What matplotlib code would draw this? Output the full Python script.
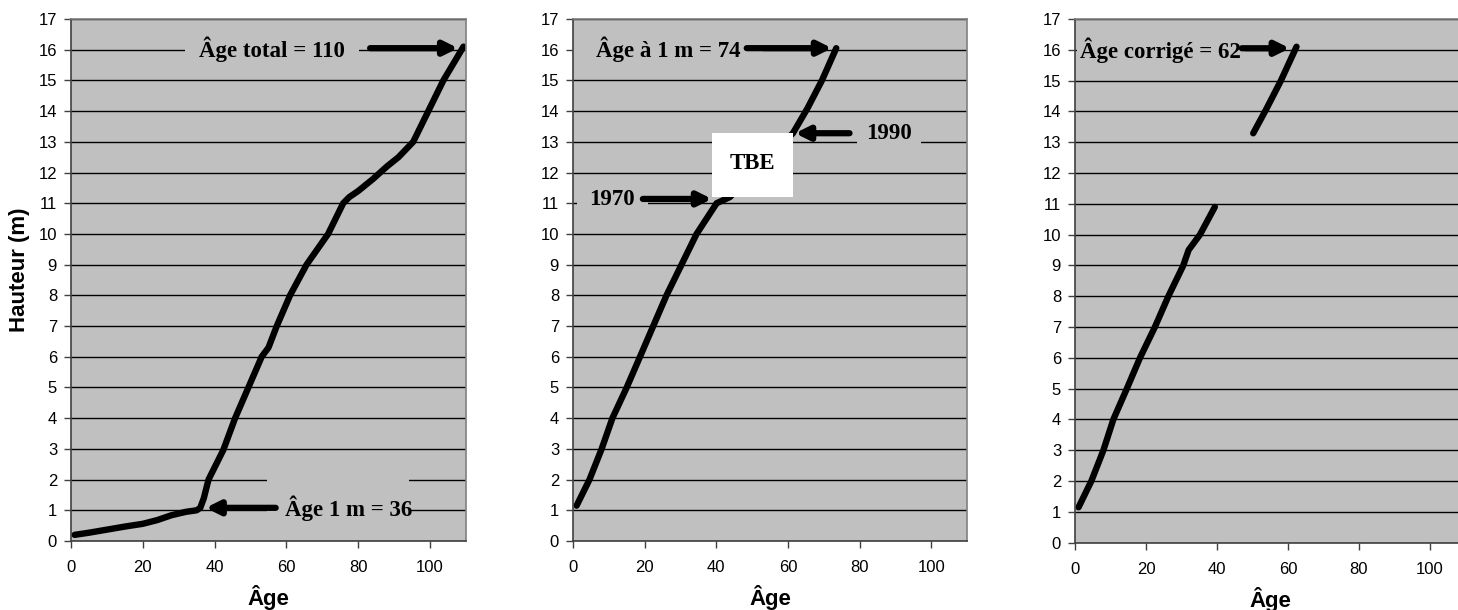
import numpy as np
import matplotlib
matplotlib.use("Agg")
import matplotlib.pyplot as plt
from matplotlib.patches import Rectangle

# ---- data ----
age_total = [1, 5, 10, 15, 20, 24, 28, 32, 35, 36, 37, 38.3, 42.4, 45.7, 49.4, 53.1, 55, 57.3,
             61, 65.6, 68, 71.6, 75.8, 77.5, 80, 84.2, 88, 91.2, 95.3, 99.5, 103.7, 109.3]
h_total = [0.2, 0.27, 0.37, 0.47, 0.56, 0.68, 0.84, 0.95, 1.0, 1.08, 1.4, 2.0, 2.96, 4.0, 5.0, 6.0,
           6.3, 7.0, 8.0, 9.0, 9.4, 10.0, 11.0, 11.2, 11.4, 11.8, 12.2, 12.5, 13.0, 14.0, 15.0, 16.1]

age_1m = [1, 4.6, 8.0, 11.0, 15.0, 18.7, 22.4, 26.1, 30.3, 34.5, 40.1, 43.8, 52, 61.4, 65.5, 69.5, 73.5]
h_1m = [1.15, 2.0, 3.0, 4.0, 5.0, 6.0, 7.0, 8.0, 9.0, 10.0, 11.0, 11.2, 12.2, 13.28, 14.1, 15.0, 16.05]

age_corr = [1, 4.6, 8.0, 10.8, 14.6, 18.3, 22.5, 26.3, 30.5, 32.0, 35.2, 39.4, np.nan, 50.2, 54, 58, 62.4]
h_corr = [1.15, 2.0, 3.0, 4.0, 5.0, 6.0, 7.0, 8.0, 9.0, 9.5, 10.0, 10.9, np.nan, 13.29, 14.1, 15.0, 16.1]

x_ticks = [0, 20, 40, 60, 80, 100]
y_ticks = list(range(0, 18))

GRAY = "#C0C0C0"

# ---- figure ----
fig = plt.figure(figsize=(14.58, 6.10), dpi=100)
positions = [
    [71 / 1458, 1 - 541 / 610, 395 / 1458, 522 / 610],
    [573 / 1458, 1 - 541 / 610, 394 / 1458, 522 / 610],
    [1075 / 1458, 1 - 542.7 / 610, 390.5 / 1458, 523.7 / 610],
]
series = [(age_total, h_total), (age_1m, h_1m), (age_corr, h_corr)]
axes = []
for pos, (xs, ys) in zip(positions, series):
    ax = fig.add_axes(pos)
    ax.set_facecolor(GRAY)
    ax.set_xlim(0, 110)
    ax.set_ylim(0, 17)
    ax.set_xticks(x_ticks)
    ax.set_yticks(y_ticks)
    ax.yaxis.grid(True, color="black", lw=1.0)
    ax.set_axisbelow(True)
    for s in ["top", "right"]:
        ax.spines[s].set_color("#808080")
        ax.spines[s].set_linewidth(1.2)
        ax.spines[s].set_zorder(6)
    for s in ["left", "bottom"]:
        ax.spines[s].set_color("#404040")
        ax.spines[s].set_linewidth(1.2)
        ax.spines[s].set_zorder(6)
    ax.tick_params(direction="out", length=5, width=1, color="#404040",
                   labelsize=12, labelfontfamily="Liberation Sans")
    ax.tick_params(axis="x", pad=9)
    ax.tick_params(axis="y", pad=5)
    ax.plot(xs, ys, color="black", lw=4.6, solid_capstyle="round",
            solid_joinstyle="round", zorder=3)
    ax.set_xlabel("Âge", fontsize=16, fontweight="bold", family="Liberation Sans",
                  va="center")
    ax.xaxis.set_label_coords(0.5, -57 / 522)
    axes.append(ax)

axes[0].set_ylabel("Hauteur (m)", fontsize=16, fontweight="bold",
                   family="Liberation Sans", va="center")
axes[0].yaxis.set_label_coords(-51 / 395, (541 - 269.5) / 522)

tkw = dict(fontsize=16.5, fontweight="bold", family="Liberation Serif",
           ha="center", va="center", zorder=4)
apr = dict(arrowstyle="-|>,head_length=0.8,head_width=0.4", lw=4.5, color="black",
           shrinkA=0, shrinkB=0)


def gbox(pad):
    return dict(boxstyle="square,pad=%s" % pad, fc=GRAY, ec="none")


# Panel 1
ax = axes[0]
ax.text(56.0, 16.0, "Âge total = 110", bbox=gbox(0.6), **tkw)
ax.annotate("", xy=(107.8, 16.05), xytext=(83.3, 16.05), arrowprops=apr, zorder=5)
ax.add_patch(Rectangle((54.6, 0.9), 39.4, 1.25, fc=GRAY, ec="none", zorder=3.5))
ax.text(77.4, 1.08, "Âge 1 m = 36", **tkw)
ax.annotate("", xy=(37.5, 1.08), xytext=(57.0, 1.08), arrowprops=apr, zorder=5)

# Panel 2
ax = axes[1]
ax.add_patch(Rectangle((0, 15.6), 53.0, 0.8, fc=GRAY, ec="none", zorder=3.5))
ax.text(26.5, 16.0, "Âge à 1 m = 74", **tkw)
ax.annotate("", xy=(72.3, 16.05), xytext=(48.5, 16.05), arrowprops=apr, zorder=5)
ax.text(88.2, 13.28, "1990", bbox=dict(boxstyle="square,pad=0.4", fc=GRAY, ec="none"), **tkw)
ax.annotate("", xy=(62.0, 13.28), xytext=(77.2, 13.28), arrowprops=apr, zorder=5)
ax.text(11.0, 11.12, "1970", bbox=gbox(0.55), **tkw)
ax.annotate("", xy=(38.8, 11.14), xytext=(19.5, 11.14), arrowprops=apr, zorder=5)
ax.add_patch(Rectangle((38.8, 11.2), 22.6, 2.09, fc="white", ec="none", zorder=4))
ax.text(50.1, 12.3, "TBE", fontsize=16.5, fontweight="bold", family="Liberation Serif",
        ha="center", va="center", zorder=6)

# Panel 3
ax = axes[2]
ax.text(24.2, 16.0, "Âge corrigé = 62", bbox=gbox(0.15), **tkw)
ax.annotate("", xy=(60.5, 16.05), xytext=(47.0, 16.05), arrowprops=apr, zorder=5)

fig.savefig("out.png", dpi=100)
